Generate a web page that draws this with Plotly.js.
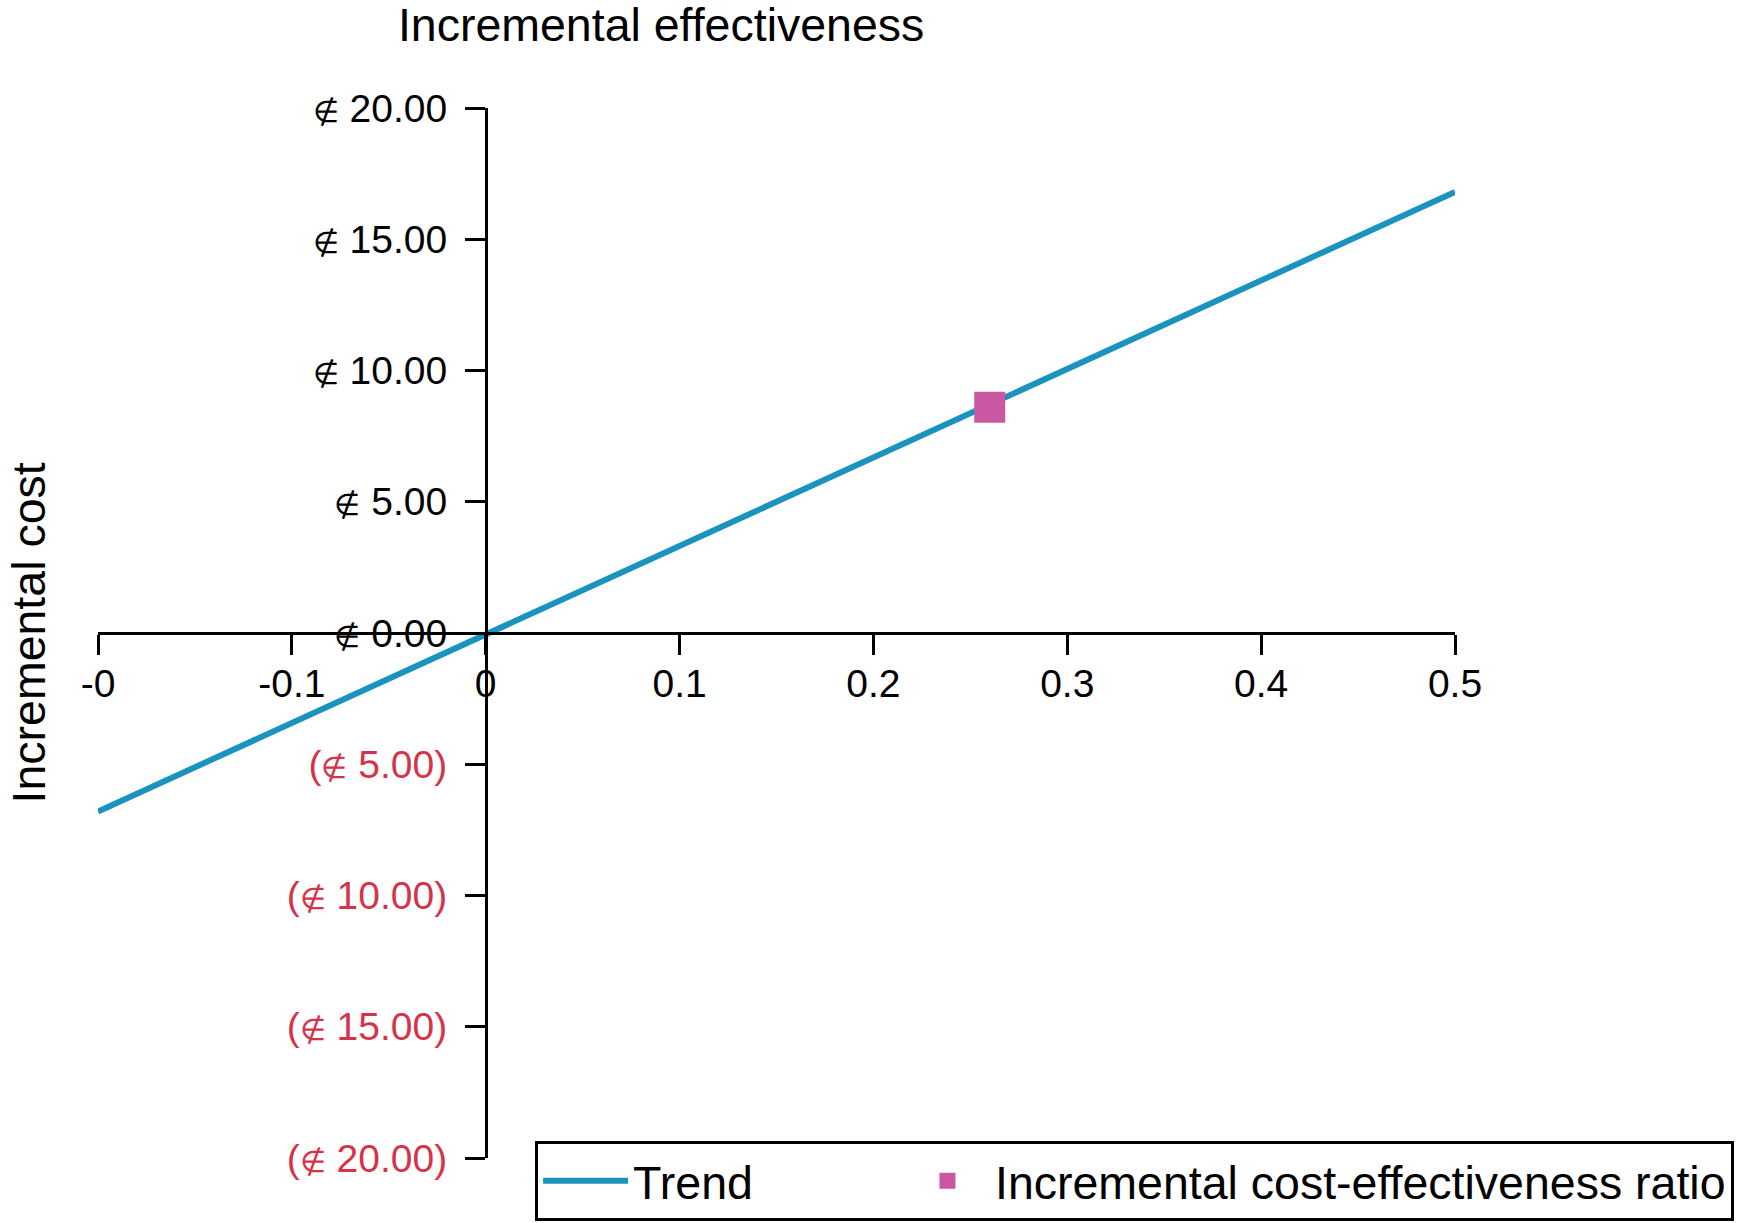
<!DOCTYPE html>
<html>
<head>
<meta charset="utf-8">
<script src="https://cdn.plot.ly/plotly-3.0.1.min.js"></script>
<style>
  html, body { margin: 0; padding: 0; background: #fff; }
  #chart { width: 1743px; height: 1223px; }
</style>
</head>
<body>
<div id="chart"></div>
<script>
// trend line (incremental effectiveness vs incremental cost)
let trendX = [-0.2, 0.5];
let trendY = [-6.8, 16.8];

// the single ICER point
let icerX = [0.26];
let icerY = [8.6];

let xTickVals = [-0.2, -0.1, 0, 0.1, 0.2, 0.3, 0.4, 0.5];
let xTickText = ["-0", "-0.1", "0", "0.1", "0.2", "0.3", "0.4", "0.5"];

let yTickVals = [20, 15, 10, 5, 0, -5, -10, -15, -20];
let yTickText = ["20.00", "15.00", "10.00", "5.00", "0.00",
                 "5.00", "10.00", "15.00", "20.00"];

const red = "#d5334a";
const sym = '<span style="font-size:30px">∉</span> ';
// negatives are shown in red, in brackets
let yLabels = yTickText.map((t, i) =>
    yTickVals[i] < 0
        ? '<span style="color:' + red + '">(' + sym + t + ')</span>'
        : sym + t);

let pad = "\u00a0".repeat(11);

let trend = {
    x: trendX,
    y: trendY,
    mode: "lines",
    name: "Trend" + pad,
    line: {color: "#1a93bf", width: 6}
};

let icer = {
    x: icerX,
    y: icerY,
    mode: "markers",
    name: "Incremental cost-effectiveness ratio",
    marker: {symbol: "square", size: 31, color: "#c957a2"}
};

let font = "Liberation Sans, Arial, sans-serif";

let layout = {
    width: 1743,
    height: 1223,
    margin: {l: 98, r: 288, t: 108, b: 65, autoexpand: false},
    paper_bgcolor: "#fff",
    plot_bgcolor: "#fff",
    font: {family: font, color: "#000", size: 39},
    showlegend: true,
    title: {
        text: "Incremental effectiveness",
        font: {size: 46.5, color: "#000"},
        xref: "paper", x: 0.221, xanchor: "left",
        yref: "container", y: 0.98, yanchor: "middle"
    },
    xaxis: {
        range: [-0.2, 0.5],
        tickvals: xTickVals,
        ticktext: xTickText,
        showgrid: false,
        zeroline: false,
        showline: true,
        linecolor: "#000",
        linewidth: 3,
        ticks: "outside",
        ticklen: 20,
        tickwidth: 3,
        tickcolor: "#000",
        ticklabelstandoff: -5,
        anchor: "free",
        position: 0.5,
        tickfont: {size: 39}
    },
    yaxis: {
        range: [-20, 20],
        tickvals: yTickVals,
        ticktext: yLabels,
        showgrid: false,
        zeroline: false,
        showline: true,
        linecolor: "#000",
        linewidth: 3,
        ticks: "outside",
        ticklen: 20,
        tickwidth: 3,
        tickcolor: "#000",
        ticklabelstandoff: 10,
        anchor: "free",
        position: 0.2859,
        tickfont: {size: 39}
    },
    annotations: [{
        text: "Incremental cost",
        xref: "paper", yref: "paper",
        x: -0.0505, y: 0.5,
        xanchor: "center", yanchor: "middle",
        textangle: -90,
        showarrow: false,
        font: {size: 46.5, color: "#000"}
    }],
    legend: {
        orientation: "h",
        xref: "container", x: 0.307, xanchor: "left",
        yref: "container", y: 0.0016, yanchor: "bottom",
        bgcolor: "#fff",
        bordercolor: "#000",
        borderwidth: 3,
        itemwidth: 85,
        font: {size: 46.5, color: "#000"}
    }
};

Plotly.newPlot("chart", [trend, icer], layout, {displayModeBar: false});
</script>
</body>
</html>
